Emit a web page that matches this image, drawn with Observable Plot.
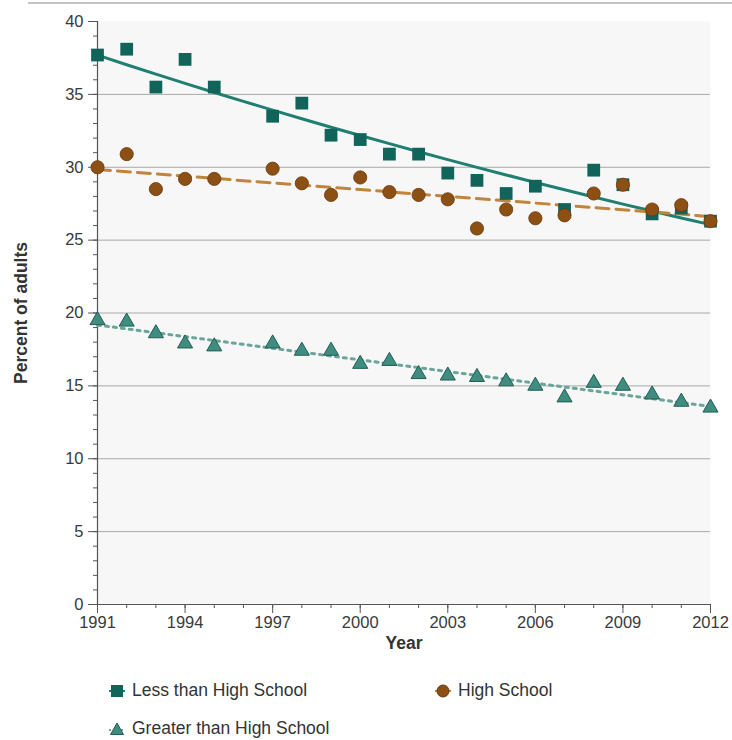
<!DOCTYPE html>
<html><head><meta charset="utf-8">
<script src="https://cdn.jsdelivr.net/npm/d3@7"></script>
<script src="https://cdn.jsdelivr.net/npm/@observablehq/plot@0.6"></script>
<style>
body{margin:0;background:#fff;font-family:"Liberation Sans",Arial,sans-serif;}
#wrap{position:relative;width:732px;height:740px;overflow:hidden;}
#topline{position:absolute;left:28px;top:2px;width:704px;height:2px;background:#c4c4c4;}
#chart{position:absolute;left:0;top:0;}
.leg{position:absolute;font-size:17.5px;color:#333;display:flex;align-items:center;white-space:nowrap;}
.leg svg{margin-right:4px;}
</style></head><body>
<div id="wrap">
<div id="topline"></div>
<div id="chart"></div>
<div class="leg" style="left:106px;top:680px;"><svg width="22" height="18"><line x1="3" x2="19" y1="9" y2="9" stroke="#1f7f71" stroke-width="2"/><rect x="5" y="3" width="12" height="12" fill="#10645a"/></svg>Less than High School</div>
<div class="leg" style="left:432px;top:680px;"><svg width="22" height="18"><line x1="3" x2="19" y1="9" y2="9" stroke="#c48a3c" stroke-width="2"/><circle cx="11" cy="9" r="6" fill="#8c4f14" stroke="#6a3a0c"/></svg>High School</div>
<div class="leg" style="left:106px;top:718px;"><svg width="22" height="18"><line x1="3" x2="19" y1="10" y2="10" stroke="#6aa59a" stroke-width="2" stroke-dasharray="2,2"/><path d="M11,3 L17.5,14.5 L4.5,14.5 Z" fill="#3f8d80" stroke="#235c52"/></svg>Greater than High School</div>
</div>
<script>
const years = [1991,1992,1993,1994,1995,1997,1998,1999,2000,2001,2002,2003,2004,2005,2006,2007,2008,2009,2010,2011,2012];
const lessThanHS = [37.7,38.1,35.5,37.4,35.5,33.5,34.4,32.2,31.9,30.9,30.9,29.6,29.1,28.2,28.7,27.1,29.8,28.8,26.8,27.2,26.3];
const highSchool = [30.0,30.9,28.5,29.2,29.2,29.9,28.9,28.1,29.3,28.3,28.1,27.8,25.8,27.1,26.5,26.7,28.2,28.8,27.1,27.4,26.3];
const greaterThanHS = [19.5,19.4,18.6,17.9,17.7,17.9,17.4,17.4,16.5,16.7,15.8,15.7,15.6,15.3,15.0,14.2,15.2,15.0,14.4,13.9,13.5];
const xTicks = [1991,1994,1997,2000,2003,2006,2009,2012];
const xMinorTicks = d3.range(1991, 2013);
const yTicks = [0,5,10,15,20,25,30,35,40];
const yMinorTicks = d3.range(0, 41);
const yGrid = [5,10,15,20,25,30,35];

const rows = (vals) => years.map((y, i) => ({year: y, value: vals[i]}));
const dLess = rows(lessThanHS), dHS = rows(highSchool), dGreater = rows(greaterThanHS);

// exponential (log-linear) least-squares trend for "less than high school"
function expFit(data) {
  const xs = data.map(d => d.year), ls = data.map(d => Math.log(d.value));
  const mx = d3.mean(xs), ml = d3.mean(ls);
  let num = 0, den = 0;
  for (let i = 0; i < xs.length; i++) { num += (xs[i]-mx)*(ls[i]-ml); den += (xs[i]-mx)**2; }
  const b = num / den, a = ml - b * mx;
  return xMinorTicks.map(y => ({year: y, value: Math.exp(a + b * y)}));
}
const fitLess = expFit(dLess);

const chart = Plot.plot({
  width: 732,
  height: 665,
  marginLeft: 97,
  marginRight: 22,
  marginTop: 21,
  marginBottom: 61,
  style: {fontFamily: "'Liberation Sans', Arial, sans-serif", fontSize: "16px", color: "#444", background: "transparent"},
  x: {domain: [1991, 2012]},
  y: {domain: [0, 40]},
  marks: [
    Plot.frame({fill: "#f7f7f7", stroke: null}),
    Plot.gridY(yGrid, {stroke: "#a8a8a8", strokeOpacity: 1, strokeWidth: 1}),
    Plot.axisY(yMinorTicks, {tickSize: 4, text: null, stroke: "#555", label: null}),
    Plot.axisY(yTicks, {tickSize: 9, tickPadding: 5, stroke: "#555", fill: "#3a3a3a", label: null, fontSize: 16.5}),
    Plot.axisX(xMinorTicks, {tickSize: 4, text: null, stroke: "#555", label: null}),
    Plot.axisX(xTicks, {tickSize: 9, tickPadding: 3, stroke: "#555", fill: "#3a3a3a", label: null, tickFormat: d => String(d), fontSize: 16.5}),
    Plot.ruleX([1991], {stroke: "#555", strokeWidth: 1.2}),
    Plot.ruleY([0], {stroke: "#555", strokeWidth: 1.2}),
    Plot.line(fitLess, {x: "year", y: "value", stroke: "#1f7f71", strokeWidth: 3, curve: "natural"}),
    Plot.linearRegressionY(dHS, {x: "year", y: "value", stroke: "#c0843a", strokeWidth: 3, strokeDasharray: "13,7", ci: 0}),
    Plot.linearRegressionY(dGreater, {x: "year", y: "value", stroke: "#6aa59a", strokeWidth: 3, strokeDasharray: "3,5", ci: 0}),
    Plot.dot(dLess, {x: "year", y: "value", symbol: "square", r: 7.2, fill: "#10645a", stroke: null}),
    Plot.dot(dHS, {x: "year", y: "value", symbol: "circle", r: 6.6, fill: "#8c4f14", stroke: "#6a3a0c", strokeWidth: 0.8}),
    Plot.dot(dGreater, {x: "year", y: "value", symbol: "triangle", r: 5.6, fill: "#3f8d80", stroke: "#235c52", strokeWidth: 1}),
    Plot.text(["Percent of adults"], {frameAnchor: "left", dx: -76, rotate: -90, textAnchor: "middle", fontWeight: "bold", fontSize: 17.5, fill: "#333"}),
    Plot.text(["Year"], {frameAnchor: "bottom", dy: 44, textAnchor: "middle", fontWeight: "bold", fontSize: 17.5, fill: "#333"})
  ]
});
document.getElementById("chart").appendChild(chart);
</script>
</body></html>
